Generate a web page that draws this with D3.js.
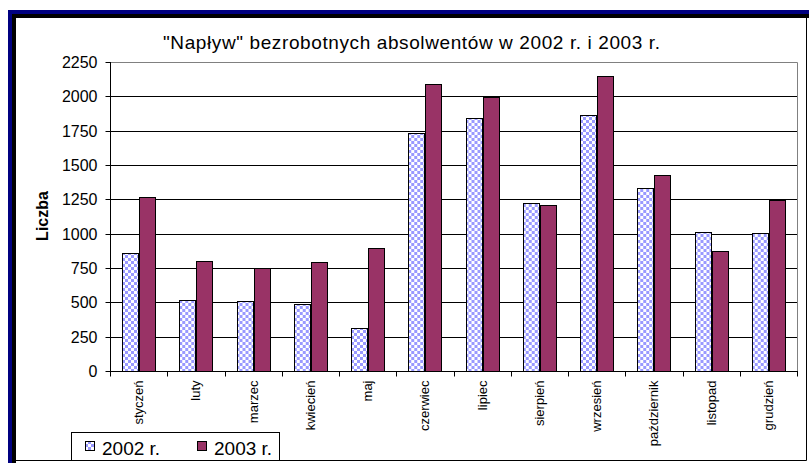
<!DOCTYPE html>
<html lang="pl">
<head>
<meta charset="utf-8">
<script src="https://d3js.org/d3.v7.min.js"></script>
<style>
  body { margin: 0; background: #fff; }
  svg { display: block; font-family: "Liberation Sans", Arial, sans-serif; }
  .grid line { stroke: #000; shape-rendering: crispEdges; }
  .bar { stroke: #000; stroke-width: 1px; shape-rendering: crispEdges; }
</style>
</head>
<body>
<script>
// data
const months = ["styczeń", "luty", "marzec", "kwiecień", "maj", "czerwiec",
  "lipiec", "sierpień", "wrzesień", "październik", "listopad", "grudzień"];
const years = ["2002 r.", "2003 r."];
const values2002 = [860, 520, 510, 485, 310, 1735, 1840, 1220, 1865, 1335, 1015, 1008];
const values2003 = [1265, 800, 750, 795, 892, 2092, 1995, 1210, 2145, 1430, 875, 1243];
const yTicks = [0, 250, 500, 750, 1000, 1250, 1500, 1750, 2000, 2250];

const W = 809, H = 463;
const plot = { left: 110, right: 797, top: 62, bottom: 371 };

const svg = d3.select("body").append("svg")
  .attr("width", W)
  .attr("height", H);

// checker pattern for the 2002 series
const defs = svg.append("defs");
const pat = defs.append("pattern")
  .attr("id", "checker")
  .attr("patternUnits", "userSpaceOnUse")
  .attr("width", 6).attr("height", 6);
pat.append("rect").attr("width", 6).attr("height", 6).attr("fill", "#fff");
pat.append("rect").attr("width", 3).attr("height", 3).attr("fill", "#9999ff");
pat.append("rect").attr("x", 3).attr("y", 3).attr("width", 3).attr("height", 3).attr("fill", "#9999ff");

const colors = ["url(#checker)", "#993366"];

// window frame (navy + black on top/left)
svg.append("rect").attr("x", 8).attr("y", 10).attr("width", W - 8).attr("height", 4).attr("fill", "#000080");
svg.append("rect").attr("x", 8).attr("y", 10).attr("width", 4).attr("height", H - 10).attr("fill", "#000080");
svg.append("rect").attr("x", 12).attr("y", 14).attr("width", W - 12).attr("height", 4).attr("fill", "#000");
svg.append("rect").attr("x", 12).attr("y", 14).attr("width", 4).attr("height", H - 14).attr("fill", "#000");

// chart area
svg.append("rect")
  .attr("x", 16).attr("y", 18)
  .attr("width", 806 - 16).attr("height", 460 - 18)
  .attr("fill", "#fff");

// scales
const x = d3.scaleBand()
  .domain(months)
  .range([plot.left, plot.right])
  .paddingInner(0).paddingOuter(0);

const x1 = d3.scaleBand()
  .domain(years)
  .range([0, x.bandwidth()])
  .paddingInner(0)
  .paddingOuter(0.75);

const y = d3.scaleLinear()
  .domain([0, 2250])
  .range([plot.bottom, plot.top]);

// gridlines
svg.append("g")
  .attr("class", "grid")
  .attr("transform", "translate(" + plot.left + ",0)")
  .call(d3.axisLeft(y).tickValues(yTicks.slice(1, -1)).tickSize(-(plot.right - plot.left)).tickFormat(""))
  .call(g => g.select(".domain").remove());

// plot border (grey top + right)
svg.append("path")
  .attr("d", `M${plot.left},${plot.top + 0.5}H${plot.right + 0.5}V${plot.bottom}`)
  .attr("fill", "none")
  .attr("stroke", "#808080");

// bars
const rows = months.map((m, i) => ({ month: m, vals: [values2002[i], values2003[i]] }));

const groups = svg.append("g").selectAll("g")
  .data(rows)
  .join("g")
  .attr("transform", d => "translate(" + x(d.month) + ",0)");

groups.selectAll("rect")
  .data(d => d.vals.map((v, j) => ({ year: years[j], v: v, j: j })))
  .join("rect")
  .attr("class", "bar")
  .attr("x", d => Math.round(x1(d.year)) + 0.5)
  .attr("y", d => Math.round(y(d.v)) + 0.5)
  .attr("width", d => Math.round(x1.bandwidth()))
  .attr("height", d => plot.bottom - Math.round(y(d.v)))
  .attr("fill", d => colors[d.j]);

// y axis
const yAxis = svg.append("g")
  .attr("transform", "translate(" + (plot.left + 0.5) + ",0)")
  .call(d3.axisLeft(y).tickValues(yTicks).tickFormat(d3.format("d")).tickSize(5).tickPadding(8))
  .call(g => g.select(".domain").attr("stroke", "#000").attr("d", `M0,${plot.top}V${plot.bottom}`));
yAxis.selectAll(".tick line").attr("stroke", "#000");
yAxis.selectAll("text")
  .attr("fill", "#000")
  .style("font-family", "Liberation Sans, Arial, sans-serif")
  .style("font-size", "16px");
yAxis.selectAll(".tick").attr("transform", d => "translate(0," + (Math.round(y(d)) + 0.5) + ")");

// x axis: line + ticks at category boundaries
const xAxis = svg.append("g")
  .attr("transform", "translate(0," + (plot.bottom + 0.5) + ")");
xAxis.append("line")
  .attr("x1", plot.left).attr("x2", plot.right + 1)
  .attr("stroke", "#000");
xAxis.selectAll(".bound")
  .data(months.concat(["end"]))
  .join("line")
  .attr("class", "bound")
  .attr("x1", d => Math.round(d === "end" ? plot.right : x(d)) + 0.5)
  .attr("x2", d => Math.round(d === "end" ? plot.right : x(d)) + 0.5)
  .attr("y1", 0).attr("y2", 5)
  .attr("stroke", "#000");

xAxis.selectAll(".lab")
  .data(months)
  .join("text")
  .attr("class", "lab")
  .attr("transform", d => "translate(" + (x(d) + x.bandwidth() / 2) + ",9) rotate(-90)")
  .attr("text-anchor", "end")
  .attr("dy", "0.35em")
  .style("font-size", "13px")
  .attr("fill", "#000")
  .text(d => d);

// axis title
svg.append("text")
  .attr("transform", "translate(48,216) rotate(-90)")
  .attr("text-anchor", "middle")
  .style("font-size", "16px")
  .style("font-weight", "bold")
  .text("Liczba");

// chart title
svg.append("text")
  .attr("x", 163)
  .attr("y", 49)
  .attr("textLength", 497)
  .attr("lengthAdjust", "spacing")
  .style("font-size", "19px")
  .text("\"Napływ\" bezrobotnych absolwentów w 2002 r. i 2003 r.");

// legend
const legend = svg.append("g");
legend.append("rect")
  .attr("x", 71.5).attr("y", 432.5)
  .attr("width", 208).attr("height", 40)
  .attr("fill", "#fff")
  .attr("stroke", "#000");

const legX = [85, 197];
const item = legend.selectAll(".item")
  .data(years)
  .join("g")
  .attr("class", "item")
  .attr("transform", (d, i) => "translate(" + legX[i] + ",0)");
item.append("rect")
  .attr("x", 0.5).attr("y", 441.5)
  .attr("width", 9).attr("height", 9)
  .attr("fill", (d, i) => colors[i])
  .attr("stroke", "#000");
item.append("text")
  .attr("x", 17).attr("y", 455)
  .style("font-size", "19px")
  .text(d => d);

// right / bottom edge of chart area
svg.append("path")
  .attr("d", "M806.5,18V460.5H16")
  .attr("fill", "none")
  .attr("stroke", "#000");
svg.append("rect").attr("x", 807).attr("y", 18).attr("width", 2).attr("height", H - 18).attr("fill", "#fff");
svg.append("rect").attr("x", 16).attr("y", 461).attr("width", W - 16).attr("height", 2).attr("fill", "#fff");
</script>
</body>
</html>
